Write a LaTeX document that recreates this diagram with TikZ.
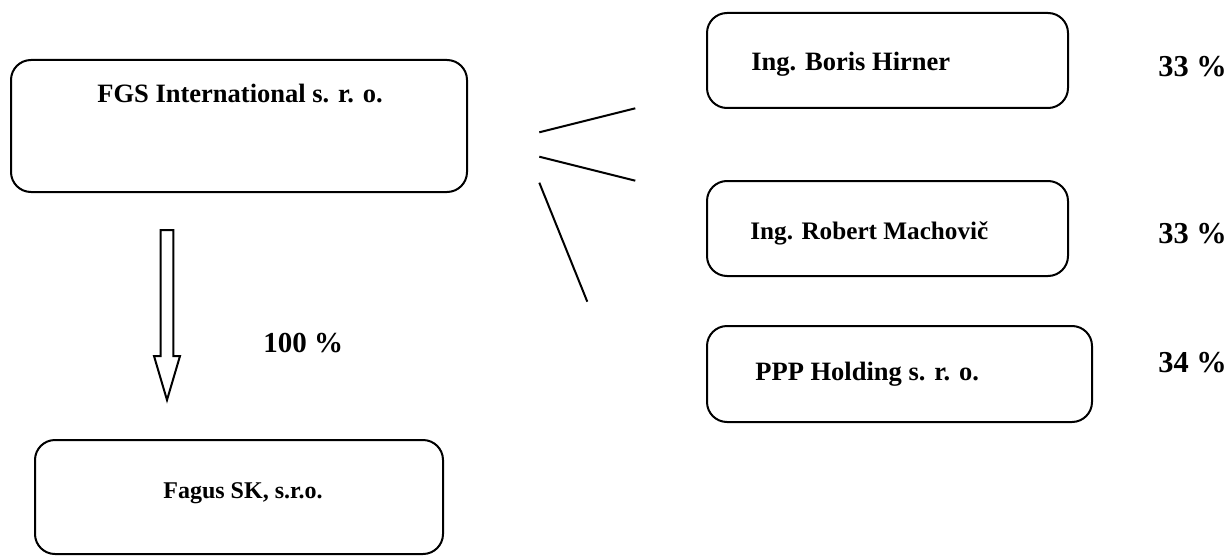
\documentclass[tikz,border=0pt]{standalone}
\usepackage{fontspec}
\setmainfont{Liberation Serif}
\usetikzlibrary{calc}
\tikzset{
  orgbox/.style={draw, line width=1pt, rounded corners=10pt, inner sep=0pt},
  nametext/.style={anchor=base west, inner sep=0pt, font=\fontsize{13.25}{16}\selectfont\bfseries},
  pcttext/.style={anchor=base west, inner sep=0pt, font=\fontsize{15.2}{18}\selectfont\bfseries},
  link/.style={line width=1pt},
}
\begin{document}
\begin{tikzpicture}[x=0.5pt, y=-0.5pt]
\useasboundingbox (0,0) rectangle (1230,556);
% boxes
\node[orgbox, minimum width=228pt, minimum height=66pt] (fgs) at (239,126) {};
\node[orgbox, minimum width=204pt, minimum height=57pt] (fagus) at (239,497) {};
\node[orgbox, minimum width=180.5pt, minimum height=47.5pt] (boris) at (887.5,60.5) {};
\node[orgbox, minimum width=180.5pt, minimum height=47.5pt] (robert) at (887.5,228.5) {};
\node[orgbox, minimum width=192.5pt, minimum height=48pt] (ppp) at (899.5,374) {};
% texts
\node[nametext] (tfgs) at (97,103) {FGS International s. r. o.};
\node[nametext, font=\fontsize{12}{14}\selectfont\bfseries] (tfagus) at (163,498) {Fagus SK, s.r.o.};
\node[nametext] (tboris) at (751,71) {Ing. Boris Hirner};
\node[nametext, font=\fontsize{12.6}{15}\selectfont\bfseries] (trobert) at (750,239) {Ing. Robert Machovič};
\node[nametext] (tppp) at (755,380) {PPP Holding s. r. o.};
\node[pcttext] (p1) at (1158,76) {33 \%};
\node[pcttext] (p2) at (1158,243) {33 \%};
\node[pcttext] (p3) at (1158,372) {34 \%};
\node[pcttext, font=\fontsize{14.5}{17}\selectfont\bfseries] (p100) at (263,352) {100 \%};
% block arrow
\coordinate (atop) at (167,230);
\coordinate (atip) at (167,400);
\draw[line width=1pt, line join=miter]
  ($(atop)+(-6.3,0)$) -- ($(atop)+(6.3,0)$) -- ($(atip)+(6.3,-44)$) -- ($(atip)+(13,-44)$)
  -- (atip) -- ($(atip)+(-13,-44)$) -- ($(atip)+(-6.3,-44)$) -- cycle;
% lines
\coordinate (l1a) at (539.3,132.3);
\coordinate (l1b) at (635.3,108.3);
\coordinate (l2a) at (539.3,156.7);
\coordinate (l2b) at (635.3,180.7);
\coordinate (l3a) at (539.3,182.7);
\coordinate (l3b) at (587.3,301.7);
\draw[link] (l1a) -- (l1b);
\draw[link] (l2a) -- (l2b);
\draw[link] (l3a) -- (l3b);
\end{tikzpicture}
\end{document}
